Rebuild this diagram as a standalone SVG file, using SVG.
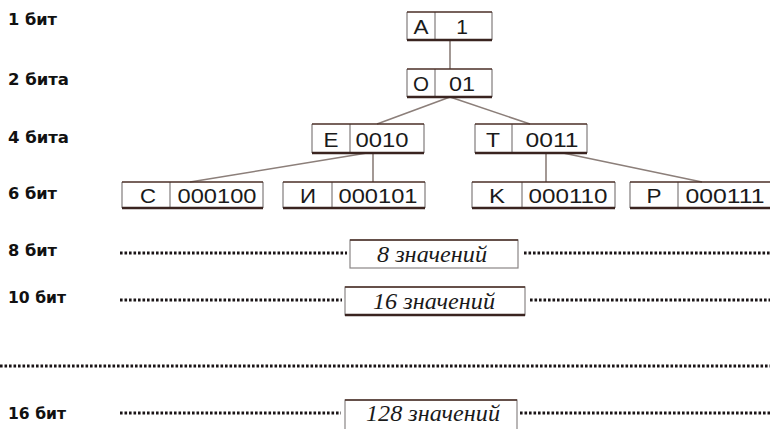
<svg xmlns="http://www.w3.org/2000/svg" width="770" height="429" viewBox="0 0 770 429">
<style>
.lbl{font-family:"DejaVu Sans","Liberation Sans",Arial,sans-serif;font-weight:bold;font-size:16px;fill:#111}
.bt{font-family:"Liberation Sans",Arial,sans-serif;font-size:21px;fill:#1a1a1a;text-anchor:middle}
.it{font-family:"Liberation Serif","Times New Roman",serif;font-style:italic;font-size:24px;fill:#1a1a1a;text-anchor:middle}
.side{stroke:#8a8686;stroke-width:1.3;fill:none}
.top{stroke:#4a2e26;stroke-width:1.5;fill:none}
.bot{stroke:#3a2420;stroke-width:2.5;fill:none}
.con{stroke:#8c7f7a;stroke-width:1.6;fill:none}
.dot{stroke:#1a1416;stroke-width:3;stroke-dasharray:2.6 1.9;fill:none}
</style>
<rect width="770" height="429" fill="#fff"/>
<g id="labels">
<text class="lbl" x="8" y="25" textLength="49" lengthAdjust="spacingAndGlyphs">1 бит</text>
<text class="lbl" x="8" y="85" textLength="61" lengthAdjust="spacingAndGlyphs">2 бита</text>
<text class="lbl" x="8" y="143" textLength="61" lengthAdjust="spacingAndGlyphs">4 бита</text>
<text class="lbl" x="8" y="199" textLength="49" lengthAdjust="spacingAndGlyphs">6 бит</text>
<text class="lbl" x="8" y="256" textLength="49" lengthAdjust="spacingAndGlyphs">8 бит</text>
<text class="lbl" x="8" y="303" textLength="58" lengthAdjust="spacingAndGlyphs">10 бит</text>
<text class="lbl" x="8" y="419" textLength="58" lengthAdjust="spacingAndGlyphs">16 бит</text>
</g>
<g id="connectors">
<line class="con" x1="450" y1="40" x2="450" y2="69"/>
<line class="con" x1="450" y1="97" x2="377" y2="124"/>
<line class="con" x1="450" y1="97" x2="530" y2="124"/>
<line class="con" x1="367" y1="153" x2="190" y2="182"/>
<line class="con" x1="373" y1="153" x2="373" y2="182"/>
<line class="con" x1="546" y1="153" x2="546" y2="182"/>
<line class="con" x1="563" y1="153" x2="702" y2="182"/>
</g>
<g id="nodeA">
<line class="side" x1="407" y1="12" x2="407" y2="40"/><line class="side" x1="492" y1="12" x2="492" y2="40"/><line class="side" x1="435" y1="12" x2="435" y2="40"/>
<line class="top" x1="407" y1="12" x2="492" y2="12"/><line class="bot" x1="407" y1="40" x2="492" y2="40"/>
<text class="bt" x="421" y="34" textLength="15" lengthAdjust="spacingAndGlyphs">A</text><text class="bt" x="462" y="34">1</text>
</g>
<g id="nodeO">
<line class="side" x1="407" y1="69" x2="407" y2="97"/><line class="side" x1="492" y1="69" x2="492" y2="97"/><line class="side" x1="435" y1="69" x2="435" y2="97"/>
<line class="top" x1="407" y1="69" x2="492" y2="69"/><line class="bot" x1="407" y1="97" x2="492" y2="97"/>
<text class="bt" x="421" y="91" textLength="16" lengthAdjust="spacingAndGlyphs">O</text><text class="bt" x="462" y="91" textLength="26" lengthAdjust="spacingAndGlyphs">01</text>
</g>
<g id="nodeE">
<line class="side" x1="312" y1="124" x2="312" y2="153"/><line class="side" x1="424" y1="124" x2="424" y2="153"/><line class="side" x1="350" y1="124" x2="350" y2="153"/>
<line class="top" x1="312" y1="124" x2="424" y2="124"/><line class="bot" x1="312" y1="153" x2="424" y2="153"/>
<text class="bt" x="331" y="147" textLength="15" lengthAdjust="spacingAndGlyphs">E</text><text class="bt" x="382" y="147" textLength="53" lengthAdjust="spacingAndGlyphs">0010</text>
</g>
<g id="nodeT">
<line class="side" x1="475" y1="124" x2="475" y2="153"/><line class="side" x1="587" y1="124" x2="587" y2="153"/><line class="side" x1="512" y1="124" x2="512" y2="153"/>
<line class="top" x1="475" y1="124" x2="587" y2="124"/><line class="bot" x1="475" y1="153" x2="587" y2="153"/>
<text class="bt" x="493" y="147" textLength="14" lengthAdjust="spacingAndGlyphs">T</text><text class="bt" x="552" y="147" textLength="53" lengthAdjust="spacingAndGlyphs">0011</text>
</g>
<g id="nodeC">
<line class="side" x1="122" y1="182" x2="122" y2="208"/><line class="side" x1="263" y1="182" x2="263" y2="208"/><line class="side" x1="170" y1="182" x2="170" y2="208"/>
<line class="top" x1="122" y1="182" x2="263" y2="182"/><line class="bot" x1="122" y1="208" x2="263" y2="208"/>
<text class="bt" x="148" y="203" textLength="16" lengthAdjust="spacingAndGlyphs">C</text><text class="bt" x="217" y="203" textLength="79" lengthAdjust="spacingAndGlyphs">000100</text>
</g>
<g id="nodeI">
<line class="side" x1="283" y1="182" x2="283" y2="208"/><line class="side" x1="425" y1="182" x2="425" y2="208"/><line class="side" x1="332" y1="182" x2="332" y2="208"/>
<line class="top" x1="283" y1="182" x2="425" y2="182"/><line class="bot" x1="283" y1="208" x2="425" y2="208"/>
<text class="bt" x="308" y="203" textLength="16" lengthAdjust="spacingAndGlyphs">И</text><text class="bt" x="378" y="203" textLength="79" lengthAdjust="spacingAndGlyphs">000101</text>
</g>
<g id="nodeK">
<line class="side" x1="472" y1="182" x2="472" y2="208"/><line class="side" x1="615" y1="182" x2="615" y2="208"/><line class="side" x1="522" y1="182" x2="522" y2="208"/>
<line class="top" x1="472" y1="182" x2="615" y2="182"/><line class="bot" x1="472" y1="208" x2="615" y2="208"/>
<text class="bt" x="497" y="203" textLength="16" lengthAdjust="spacingAndGlyphs">K</text><text class="bt" x="568" y="203" textLength="79" lengthAdjust="spacingAndGlyphs">000110</text>
</g>
<g id="nodeP">
<line class="side" x1="630" y1="182" x2="630" y2="208"/><line class="side" x1="678" y1="182" x2="678" y2="208"/>
<line class="top" x1="630" y1="182" x2="770" y2="182"/><line class="bot" x1="630" y1="208" x2="770" y2="208"/>
<text class="bt" x="654" y="203" textLength="15" lengthAdjust="spacingAndGlyphs">P</text><text class="bt" x="725" y="203" textLength="79" lengthAdjust="spacingAndGlyphs">000111</text>
</g>
<g id="row8">
<line class="dot" x1="120" y1="253" x2="347" y2="253"/>
<line class="dot" x1="524" y1="253" x2="770" y2="253"/>
<rect x="350" y="240" width="168" height="28" fill="#fff" stroke="#8a8686" stroke-width="1.2"/>
<line class="top" x1="350" y1="240" x2="518" y2="240"/>
<text class="it" x="432" y="262" textLength="110" lengthAdjust="spacingAndGlyphs">8 значений</text>
</g>
<g id="row10">
<line class="dot" x1="120" y1="300" x2="342" y2="300"/>
<line class="dot" x1="530" y1="300" x2="770" y2="300"/>
<rect x="345" y="287" width="180" height="28" fill="#fff" stroke="#8a8686" stroke-width="1.2"/>
<line class="top" x1="345" y1="287" x2="525" y2="287"/>
<line class="bot" x1="345" y1="315" x2="525" y2="315" stroke-width="1.5"/>
<text class="it" x="434" y="309" textLength="122" lengthAdjust="spacingAndGlyphs">16 значений</text>
</g>
<g id="rowmid">
<line class="dot" x1="0" y1="366" x2="770" y2="366"/>
</g>
<g id="row16">
<line class="dot" x1="120" y1="413" x2="341" y2="413"/>
<line class="dot" x1="520" y1="413" x2="770" y2="413"/>
<rect x="345" y="400" width="172" height="32" fill="#fff" stroke="#8a8686" stroke-width="1.2"/>
<line class="top" x1="345" y1="400" x2="517" y2="400"/>
<text class="it" x="433" y="421" textLength="134" lengthAdjust="spacingAndGlyphs">128 значений</text>
</g>
</svg>
